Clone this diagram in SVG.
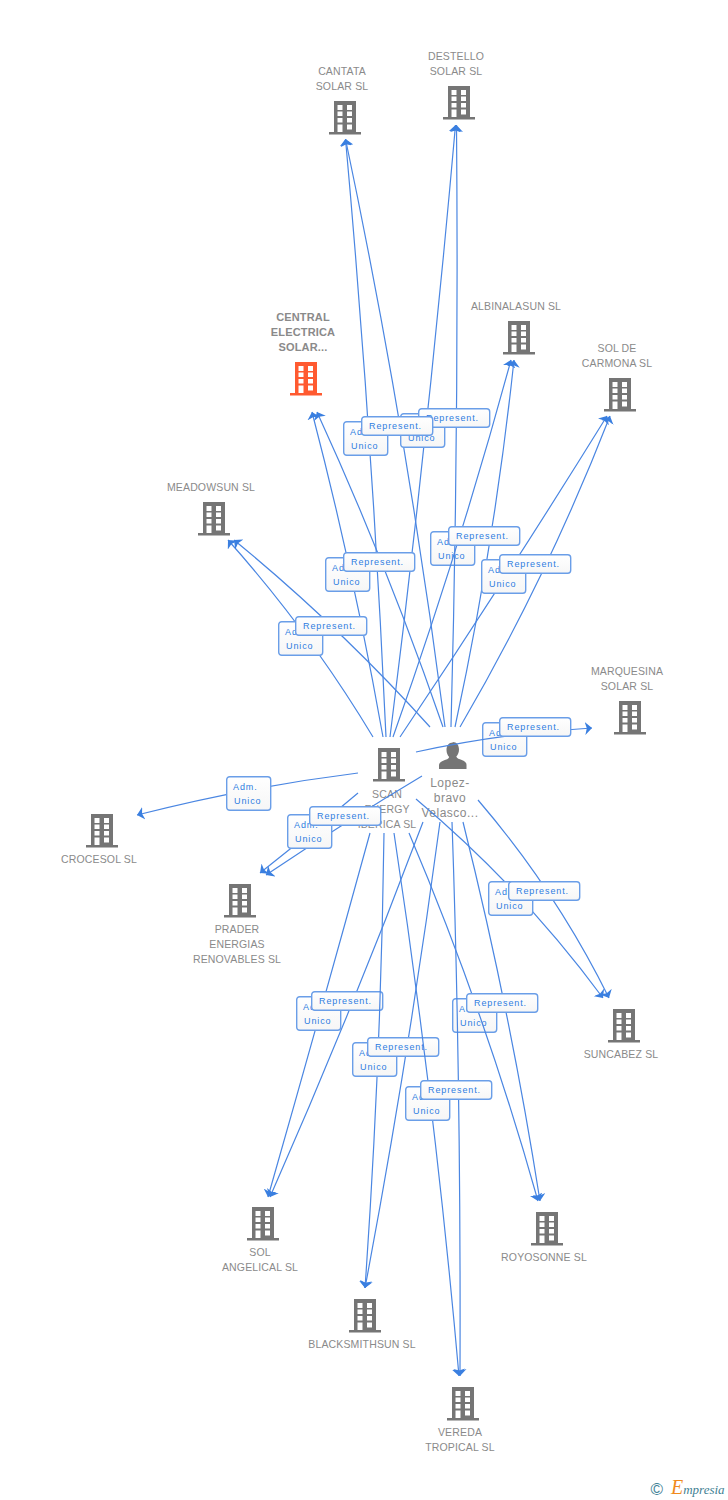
<svg xmlns="http://www.w3.org/2000/svg" width="728" height="1500" viewBox="0 0 728 1500">
<style>
.n{font:10.5px "Liberation Sans",Arial,sans-serif;fill:#8a8a8a;text-anchor:middle;letter-spacing:.15px}
.p{font-size:12px;letter-spacing:.5px}
.c{font-weight:bold;font-size:11px}
.l{stroke:#4a86e2;stroke-width:1.2;fill:none;marker-end:url(#h)}
.b{fill:url(#g);stroke:#6a9ee8;stroke-width:1.4}
.t{font:9px "Liberation Sans",Arial,sans-serif;fill:#2f7de1;letter-spacing:.9px}
</style>
<defs>
<linearGradient id="g" x1="0" y1="0" x2="0" y2="1"><stop offset="0" stop-color="#fff"/><stop offset="1" stop-color="#f6f6f6"/></linearGradient>
<marker id="h" markerUnits="userSpaceOnUse" viewBox="0 0 7 13" refX="7" refY="6.500" markerWidth="7" markerHeight="13" orient="auto"><path d="M7 6.500L0 0L1.800 6.500L0 13Z" fill="#3a7fe0"/></marker>
<path id="i" fill-rule="evenodd" d="M-11 0H11V31H16V33.500H-16V31H-11ZM-7.500 4V9H-2.500V4ZM2 4V9H7V4ZM-7.500 10.500V15H-2.500V10.500ZM2 10.500V15H7V10.500ZM-7.500 17V21.500H-2.500V17ZM2 17V21.500H7V17ZM-7.500 23.500V31H-2.500V23.500ZM2 23.500V28.500H7V23.500Z"/>
<g id="adm"><rect class="b" x=".7" y=".7" width="44" height="33.600" rx="3"/><text class="t" x="7" y="13.500">Adm.</text><text class="t" x="8" y="28">Unico</text></g>
<g id="rep"><rect class="b" x=".7" y=".7" width="71" height="18.600" rx="3"/><text class="t" x="8" y="13">Represent.</text></g>
</defs>
<rect width="728" height="1500" fill="#fff"/>
<g id="node-cantata"><text class="n" x="342" y="75">CANTATA</text><text class="n" x="342" y="90">SOLAR SL</text><use href="#i" x="345" y="101" fill="#757575"/></g>
<g id="node-destello"><text class="n" x="456" y="60">DESTELLO</text><text class="n" x="456" y="75">SOLAR SL</text><use href="#i" x="459" y="86" fill="#757575"/></g>
<g id="node-albinalasun"><text class="n" x="516" y="310">ALBINALASUN SL</text><use href="#i" x="519" y="321" fill="#757575"/></g>
<g id="node-carmona"><text class="n" x="617" y="352">SOL DE</text><text class="n" x="617" y="367">CARMONA SL</text><use href="#i" x="620" y="378" fill="#757575"/></g>
<g id="node-central"><text class="n c" x="303" y="321">CENTRAL</text><text class="n c" x="303" y="336">ELECTRICA</text><text class="n c" x="303" y="351">SOLAR...</text><use href="#i" x="306" y="362" fill="#ff5a30"/></g>
<g id="node-meadowsun"><text class="n" x="211" y="491">MEADOWSUN SL</text><use href="#i" x="214" y="502" fill="#757575"/></g>
<g id="node-marquesina"><text class="n" x="627" y="675">MARQUESINA</text><text class="n" x="627" y="690">SOLAR SL</text><use href="#i" x="630" y="701" fill="#757575"/></g>
<g id="node-scan"><use href="#i" x="389" y="748" fill="#757575"/><text class="n" x="387" y="798">SCAN</text><text class="n" x="387" y="813">ENERGY</text><text class="n" x="387" y="828">IBERICA SL</text></g>
<g id="node-lopez"><path d="M452.500 742c4.500 0 6.500 3.500 6.500 7.500c0 3-1.200 5.500-2.700 7c.5 2 3 2.500 5.500 3.500c3 1.200 4.700 2.500 4.700 5V769H439V765.500c0-2.500 1.700-3.800 4.700-5c2.500-1 5-1.500 5.500-3.500c-1.500-1.500-2.700-4-2.700-7c0-4 2-7.500 6.500-7.500Z" fill="#757575"/><text class="n p" x="450" y="787">Lopez-</text><text class="n p" x="450" y="802">bravo</text><text class="n p" x="450" y="817">Velasco...</text></g>
<g id="node-crocesol"><use href="#i" x="102" y="814" fill="#757575"/><text class="n" x="99" y="863">CROCESOL SL</text></g>
<g id="node-prader"><use href="#i" x="240" y="884" fill="#757575"/><text class="n" x="237" y="933">PRADER</text><text class="n" x="237" y="948">ENERGIAS</text><text class="n" x="237" y="963">RENOVABLES SL</text></g>
<g id="node-suncabez"><use href="#i" x="624" y="1009" fill="#757575"/><text class="n" x="621" y="1058">SUNCABEZ SL</text></g>
<g id="node-solangelical"><use href="#i" x="263" y="1207" fill="#757575"/><text class="n" x="260" y="1256">SOL</text><text class="n" x="260" y="1271">ANGELICAL SL</text></g>
<g id="node-royosonne"><use href="#i" x="547" y="1212" fill="#757575"/><text class="n" x="544" y="1261">ROYOSONNE SL</text></g>
<g id="node-blacksmithsun"><use href="#i" x="365" y="1299" fill="#757575"/><text class="n" x="362" y="1348">BLACKSMITHSUN SL</text></g>
<g id="node-vereda"><use href="#i" x="463" y="1387" fill="#757575"/><text class="n" x="460" y="1436">VEREDA</text><text class="n" x="460" y="1451">TROPICAL SL</text></g>
<g id="connectors">
<path class="l" d="M386 737Q372.500 438 345.500 139"/><path class="l" d="M445 727Q407 431 345.500 139"/>
<path class="l" d="M390 737Q428.500 431 455.500 125"/>
<use href="#adm" x="430" y="531"/>
<path class="l" d="M451 727Q459 430 456.500 125"/>
<path class="l" d="M393 737Q459 551 511 360"/><path class="l" d="M455 727Q494.500 544 514 360"/>
<path class="l" d="M383 737Q354 573 312 412"/><path class="l" d="M443 727Q388 567 317 412"/>
<path class="l" d="M373 737Q310 632 228 540"/><path class="l" d="M430 727Q339 626 234 540"/>
<path class="l" d="M400 737Q506 579 607 416"/><path class="l" d="M460 727Q547 578 610 416"/>
<use href="#adm" x="343" y="421"/><use href="#adm" x="400" y="413"/><use href="#rep" x="418" y="408"/><use href="#rep" x="361" y="416"/>
<use href="#adm" x="325" y="557"/><use href="#rep" x="343" y="552"/>
<use href="#rep" x="448" y="526"/>
<use href="#adm" x="278" y="621"/><use href="#rep" x="295" y="616"/>
<use href="#adm" x="481" y="559"/><use href="#rep" x="499" y="554"/>
<use href="#adm" x="482" y="722"/>
<path class="l" d="M416 752Q503 733 592 728"/>
<use href="#rep" x="499" y="717"/>
<path class="l" d="M358 773Q246 787 137 815"/><use href="#adm" x="226" y="776"/>
<path class="l" d="M358 793Q310 834 260 873"/><path class="l" d="M422 776Q345 822 266 875"/>
<use href="#adm" x="287" y="814"/><use href="#rep" x="309" y="806"/>
<path class="l" d="M416 799Q522 888 603 998"/><path class="l" d="M478 800Q556 891 609 998"/>
<use href="#adm" x="488" y="881"/><use href="#rep" x="508" y="881"/>
<use href="#adm" x="452" y="998"/>
<path class="l" d="M409 833Q485 1012 538 1201"/><path class="l" d="M463 822Q510 1010 540 1201"/>
<use href="#rep" x="466" y="993"/>
<path class="l" d="M370 833Q320 1015 268 1197"/><path class="l" d="M423 822Q352 1011 270 1197"/>
<use href="#adm" x="296" y="996"/><use href="#rep" x="311" y="991"/>
<path class="l" d="M384 833Q381 1060 365 1288"/><path class="l" d="M440 822Q409 1055 365 1288"/>
<use href="#adm" x="352" y="1042"/><use href="#rep" x="367" y="1037"/>
<path class="l" d="M394 833Q435 1104 459 1376"/><path class="l" d="M452 822Q461 1080 460 1376"/>
<use href="#adm" x="405" y="1086"/><use href="#rep" x="420" y="1080"/>
</g>
<g id="logo"><text x="650.500" y="1495" font-family="Liberation Sans,sans-serif" font-size="17" fill="#3f8296">©</text><text x="671" y="1494" font-family="Liberation Serif,serif" font-style="italic" font-size="13" fill="#3f7f93"><tspan font-size="20" fill="#f08a1d">E</tspan>mpresia</text></g>
</svg>
